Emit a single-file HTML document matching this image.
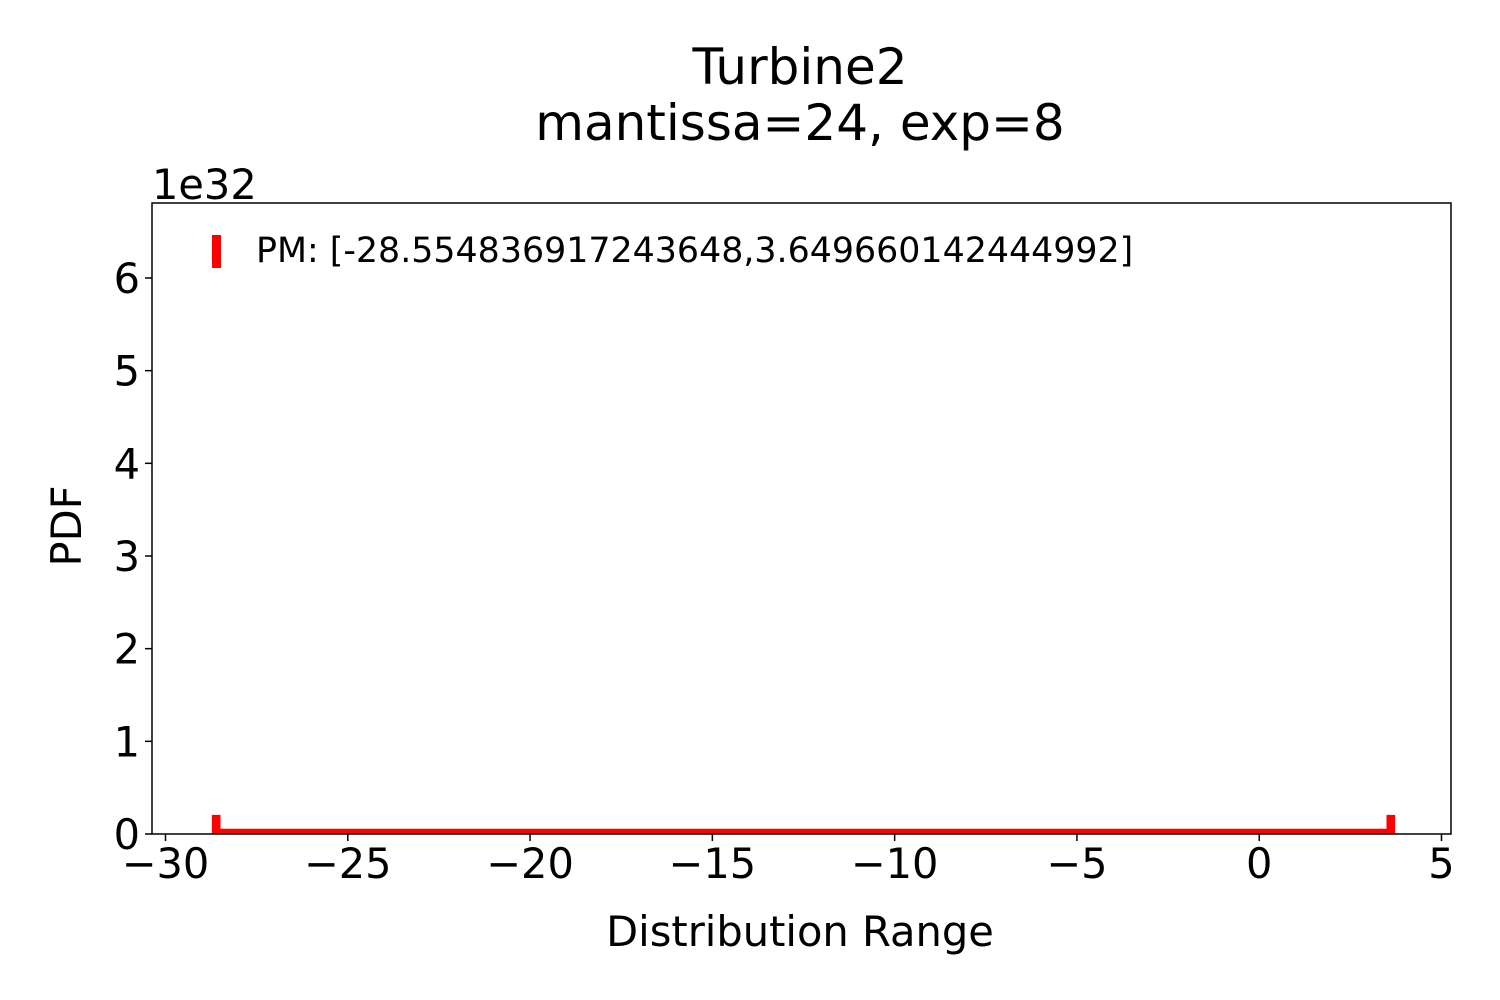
<!DOCTYPE html>
<html><head><meta charset="utf-8"><style>
body{margin:0;background:#fff}
svg{display:block;font-family:"DejaVu Sans","Liberation Sans",sans-serif}
</style></head><body>
<svg id="chart" width="1500" height="1000" xmlns="http://www.w3.org/2000/svg">
<rect width="1500" height="1000" fill="#fff"/>
<text x="800" y="84" font-size="50" text-anchor="middle">Turbine2</text>
<text x="800" y="140" font-size="50" text-anchor="middle">mantissa=24, exp=8</text>
<text x="152" y="199" font-size="41.5">1e32</text>
<g id="xticks"></g>
<g id="yticks"></g>
<g id="marks"></g>
<rect x="152" y="203" width="1299" height="631" fill="none" stroke="#000" stroke-width="1.5"/>
<text x="800" y="946" font-size="41.6" text-anchor="middle">Distribution Range</text>
<text x="0" y="0" font-size="41.6" text-anchor="middle" transform="translate(81,526) rotate(-90)">PDF</text>
<g>
<rect x="212" y="235" width="9" height="33" fill="#ff0000"/>
<text x="256" y="262" font-size="34.8">PM: [-28.554836917243648,3.649660142444992]</text>
</g>
</svg>
<script>
const binEdges = [-28.66, -28.56, 3.56, 3.66];
const binHeights = [0.18, 0.03, 0.18];
const xTickValues = [-30, -25, -20, -15, -10, -5, 0, 5];
const xTickLabels = ["\u221230","\u221225","\u221220","\u221215","\u221210","\u22125","0","5"];
const yTickValues = [0, 1, 2, 3, 4, 5, 6];
const yTickLabels = ["0","1","2","3","4","5","6"];
const NS = "http://www.w3.org/2000/svg";
function xs(v){return 165.5 + (v + 30) * 36.457;}
function ys(v){return 834 - v * 92.67;}
const xg = document.getElementById('xticks');
xTickValues.forEach((v,i)=>{
  const l = document.createElementNS(NS,'line');
  l.setAttribute('x1',xs(v));l.setAttribute('x2',xs(v));l.setAttribute('y1',834);l.setAttribute('y2',841);
  l.setAttribute('stroke','#000');l.setAttribute('stroke-width','1.5');
  
  
  xg.appendChild(l);
  const t = document.createElementNS(NS,'text');
  t.setAttribute('x',xs(v));t.setAttribute('y',878);t.setAttribute('font-size','41.5');t.setAttribute('text-anchor','middle');
  t.textContent = xTickLabels[i];
  
  
  xg.appendChild(t);
});
const yg = document.getElementById('yticks');
yTickValues.forEach((v,i)=>{
  const l = document.createElementNS(NS,'line');
  l.setAttribute('x1',145);l.setAttribute('x2',152);l.setAttribute('y1',ys(v));l.setAttribute('y2',ys(v));
  l.setAttribute('stroke','#000');l.setAttribute('stroke-width','1.5');
  
  
  yg.appendChild(l);
  const t = document.createElementNS(NS,'text');
  t.setAttribute('x',140);t.setAttribute('y',ys(v)+15);t.setAttribute('font-size','41.5');t.setAttribute('text-anchor','end');
  t.textContent = yTickLabels[i];
  
  
  yg.appendChild(t);
});
let d = 'M' + xs(binEdges[0]) + ',' + ys(0);
binHeights.forEach((h,i)=>{
  d += ' L' + xs(binEdges[i]) + ',' + ys(h) + ' L' + xs(binEdges[i+1]) + ',' + ys(h);
});
d += ' L' + xs(binEdges[binEdges.length-1]) + ',' + ys(0);
const p = document.createElementNS(NS,'path');
p.setAttribute('d',d);p.setAttribute('fill','none');p.setAttribute('stroke','#ff0000');p.setAttribute('stroke-width','5');


document.getElementById('marks').appendChild(p);
</script>
</body></html>
